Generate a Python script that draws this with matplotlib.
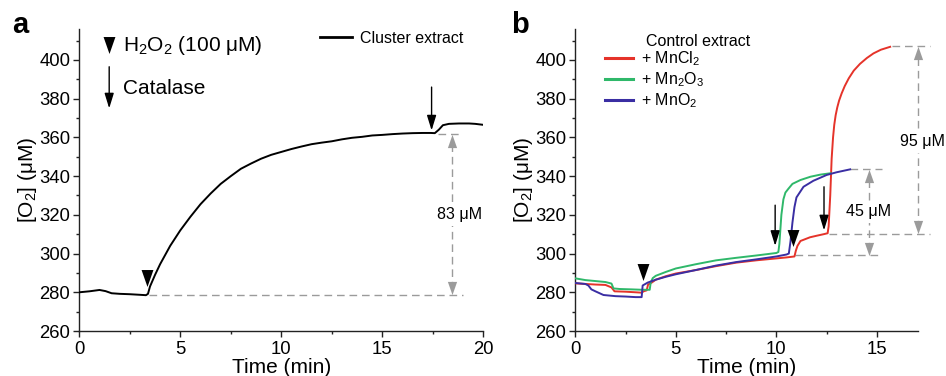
import matplotlib
matplotlib.use("Agg")
import matplotlib.pyplot as plt

plt.rcParams['font.family'] = ['Liberation Sans', 'DejaVu Sans']
plt.rcParams['mathtext.fontset'] = 'custom'
plt.rcParams['mathtext.rm'] = 'Liberation Sans'
plt.rcParams['mathtext.it'] = 'Liberation Sans:italic'
plt.rcParams['mathtext.default'] = 'rm'

# ---------------- data ----------------
# panel a: cluster extract
t_cluster = [0, 0.5, 1.0, 1.3, 1.6, 2.0, 2.5, 3.0, 3.3, 3.4, 3.5, 3.75, 4.0, 4.5, 5.0,
             5.5, 6.0, 6.5, 7.0, 7.5, 8.0, 8.5, 9.0, 9.5, 10.0, 10.5, 11.0, 11.5,
             12.0, 12.5, 13.0, 13.5, 14.0, 14.5, 15.0, 15.5, 16.0, 16.5, 17.0,
             17.4, 17.6, 17.8, 18.0, 18.3, 18.8, 19.3, 19.6, 20.0]
o2_cluster = [280.0, 280.5, 281.2, 280.6, 279.5, 279.2, 279.0, 278.7, 278.5, 279.2, 283.0,
              289.0, 294.5, 304.0, 312.0, 319.0, 325.5, 331.0, 336.0, 340.0, 343.8,
              346.5, 349.0, 351.0, 352.5, 354.0, 355.3, 356.5, 357.3, 358.0, 359.0,
              359.8, 360.3, 361.0, 361.3, 361.7, 362.0, 362.2, 362.3, 362.3, 362.2,
              364.0, 366.3, 367.0, 367.2, 367.2, 367.0, 366.5]

# panel b: control extract + Mn compounds
t_mncl2 = [0, 0.5, 1.0, 1.5, 1.8, 1.95, 2.5, 3.0, 3.3, 3.4, 3.55, 3.62, 3.8, 4.0, 4.5,
           5.0, 6.0, 7.0, 8.0, 9.0, 10.0, 10.5, 10.9, 10.97, 11.05, 11.2, 11.67,
           12.0, 12.35, 12.55, 12.6, 12.68, 12.75, 12.82, 12.88, 12.95, 13.03, 13.12,
           13.25, 13.4, 13.6, 13.85, 14.16, 14.5, 14.83, 15.2, 15.66]
o2_mncl2 = [284.6, 284.3, 284.0, 283.8, 282.5, 280.5, 280.3, 280.0, 279.8, 280.5, 281.0,
            284.0, 285.0, 286.5, 288.3, 289.7, 291.5, 293.5, 295.3, 296.5, 297.5,
            298.0, 298.5, 301.5, 304.0, 306.5, 308.4, 309.2, 310.0, 310.5, 314.0,
            330.0, 349.0, 360.0, 366.5, 371.5, 375.5, 379.0, 382.8, 386.5, 390.5,
            394.5, 398.0, 401.0, 403.4, 405.3, 406.8]

t_mn2o3 = [0, 0.5, 1.0, 1.5, 1.8, 1.9, 2.2, 2.8, 3.3, 3.7, 3.75, 3.85, 4.0, 4.5, 5.0,
           6.0, 7.0, 8.0, 9.0, 10.0, 10.1, 10.15, 10.25, 10.35, 10.45, 10.6, 10.8,
           11.2, 11.7, 12.2, 12.7]
o2_mn2o3 = [287.2, 286.3, 285.8, 285.3, 284.5, 282.0, 281.7, 281.5, 281.3, 281.3, 285.0,
            287.3, 288.5, 290.5, 292.3, 294.5, 296.5, 297.8, 299.0, 300.3, 300.8,
            305.0, 320.0, 328.0, 331.5, 333.5, 336.0, 338.0, 339.7, 340.8, 341.5]

t_mno2 = [0, 0.5, 0.65, 0.8, 1.0, 1.4, 2.0, 2.5, 3.0, 3.3, 3.35, 3.6, 4.0, 4.5, 5.0,
          6.0, 7.0, 8.0, 9.0, 10.0, 10.5, 10.62, 10.7, 10.8, 10.9, 11.0, 11.35,
          11.84, 12.5, 13.0, 13.67]
o2_mno2 = [284.8, 284.3, 283.5, 281.5, 280.5, 278.6, 278.0, 277.8, 277.5, 277.5, 283.5,
           285.0, 286.5, 288.0, 289.3, 291.5, 293.8, 295.6, 297.0, 298.5, 299.5,
           300.0, 306.0, 316.0, 324.0, 329.0, 334.5, 337.6, 340.6, 342.0, 343.5]

series_labels = ['+ MnCl$_2$', '+ Mn$_2$O$_3$', '+ MnO$_2$']
series_colors = ['#e5332a', '#2fb86a', '#3a2ea3']

# annotation levels
a_base, a_top, a_delta = 278.5, 362.0, '83 μM'
b_low, b_mid, b_plat, b_high = 299.0, 310.0, 343.5, 407.0
b_delta_small, b_delta_large = '45 μM', '95 μM'

# ---------------- figure ----------------
W, H = 946, 376
fig = plt.figure(figsize=(W / 100, H / 100), dpi=100)
ax_a = fig.add_axes([79.3 / W, 1 - 331 / H, (483.3 - 79.3) / W, 302 / H])
ax_b = fig.add_axes([575.3 / W, 1 - 331 / H, (917.7 - 575.3) / W, 302 / H])

GRAY = '#9b9b9b'
tri_down = [(-0.35, 0.5), (0.35, 0.5), (0, -0.5)]
tri_up = [(-0.35, -0.5), (0.35, -0.5), (0, 0.5)]


def style(ax, xmax):
    for s in ['top', 'right']:
        ax.spines[s].set_visible(False)
    for s in ['left', 'bottom']:
        ax.spines[s].set_linewidth(1.0)
        ax.spines[s].set_color('#222222')
    ax.set_xlim(0, xmax)
    ax.set_ylim(260, 416)
    ax.set_yticks(range(260, 401, 20))
    ax.set_yticks(range(260, 416, 10), minor=True)
    ax.set_xticks(range(0, int(xmax) + 1, 5))
    ax.set_xticks([v * 2.5 for v in range(0, int(xmax / 2.5) + 1)], minor=True)
    ax.tick_params(which='major', direction='out', length=4.5, width=1.0,
                   labelsize=13.3, pad=2, color='#222222')
    ax.tick_params(which='minor', direction='out', length=2.5, width=1.0, color='#222222')
    ax.tick_params(axis='x', which='major', pad=2.5)
    ax.set_xlabel('Time (min)', fontsize=15, labelpad=0)
    ax.set_ylabel('[O$_2$] (μM)', fontsize=15, labelpad=0)


def tri(ax, x, y, ms=12.2, c='black', up=False):
    ax.plot([x], [y], marker=tri_up if up else tri_down, ms=ms, color=c,
            mec=c, mew=0, ls='none', clip_on=False, zorder=5)


def arrow(ax, x, y0, y1):
    ax.annotate('', xy=(x, y1), xytext=(x, y0),
                arrowprops=dict(arrowstyle='-|>,head_length=0.65,head_width=0.2',
                                mutation_scale=14, color='black', lw=1.0,
                                shrinkA=0, shrinkB=0), annotation_clip=False)


def hdash(ax, x0, x1, y):
    ax.plot([x0, x1], [y, y], color=GRAY, lw=1.0, dashes=(5.5, 3.5), clip_on=False, zorder=1)


def vmeasure(ax, x, y0, y1, label, tx, ty, ha='center'):
    ax.plot([x, x], [y0 + 3, y1 - 3], color=GRAY, lw=1.0, dashes=(5.5, 3.5),
            clip_on=False, zorder=1)
    tri(ax, x, y1 - 3.6, ms=9.5, c=GRAY, up=True)
    tri(ax, x, y0 + 3.6, ms=9.5, c=GRAY, up=False)
    ax.text(tx, ty, label, fontsize=11.5, ha=ha, va='center', zorder=4,
            bbox=dict(facecolor='white', edgecolor='none', pad=2.5))


# ---------------- panel a ----------------
style(ax_a, 20)
ax_a.plot(t_cluster, o2_cluster, color='black', lw=1.4, label='Cluster extract', zorder=3)
hdash(ax_a, 3.45, 19.0, a_base)
hdash(ax_a, 17.75, 19.0, a_top)
vmeasure(ax_a, 18.47, a_base, a_top, a_delta, 17.72, 320, ha='left')
tri(ax_a, 3.34, 287.2)
arrow(ax_a, 17.44, 386, 363.6)
# key at top left
tri(ax_a, 1.48, 407.7)
ax_a.text(2.16, 407.7, 'H$_2$O$_2$ (100 μM)', fontsize=15, va='center', ha='left')
arrow(ax_a, 1.48, 396.5, 375)
ax_a.text(2.16, 385.5, 'Catalase', fontsize=15, va='center', ha='left')
ax_a.legend(loc='upper left', bbox_to_anchor=(11.9, 415.0), bbox_transform=ax_a.transData,
            frameon=False, fontsize=11.5, handlelength=2.0, handletextpad=0.5,
            borderpad=0, borderaxespad=0)
for lh in ax_a.get_legend().get_lines():
    lh.set_linewidth(2.0)
fig.text(20 / W, 1 - 33 / H, 'a', fontsize=21, fontweight='bold', ha='center', va='baseline')

# ---------------- panel b ----------------
style(ax_b, 17)
ax_b.set_xlim(0, 17.03)
for t, v, lab, c in zip([t_mncl2, t_mn2o3, t_mno2], [o2_mncl2, o2_mn2o3, o2_mno2],
                        series_labels, series_colors):
    ax_b.plot(t, v, color=c, lw=1.4, label=lab, zorder=3)

hdash(ax_b, 15.74, 17.64, b_high)
hdash(ax_b, 13.67, 15.24, b_plat)
hdash(ax_b, 12.6, 17.64, b_mid)
hdash(ax_b, 10.95, 15.16, b_low)
vmeasure(ax_b, 17.03, b_mid, b_high, b_delta_large, 17.27, 357.8)
vmeasure(ax_b, 14.61, b_low, b_plat, b_delta_small, 14.61, 321.6)
tri(ax_b, 3.35, 290.3)
tri(ax_b, 10.81, 307.9)
arrow(ax_b, 9.94, 325, 304.0)
arrow(ax_b, 12.37, 334.5, 312.0)

ax_b.text(3.52, 409.8, 'Control extract', fontsize=11.5, va='center', ha='left')
leg = ax_b.legend(loc='upper left', bbox_to_anchor=(1.5, 405.3), bbox_transform=ax_b.transData,
                  frameon=False, fontsize=11.5, handlelength=1.75, handletextpad=0.5,
                  labelspacing=0.14, borderpad=0, borderaxespad=0)
for lh in leg.get_lines():
    lh.set_linewidth(2.2)
fig.text(520 / W, 1 - 33 / H, 'b', fontsize=21, fontweight='bold', ha='center', va='baseline')

fig.savefig('out.png', dpi=100)
